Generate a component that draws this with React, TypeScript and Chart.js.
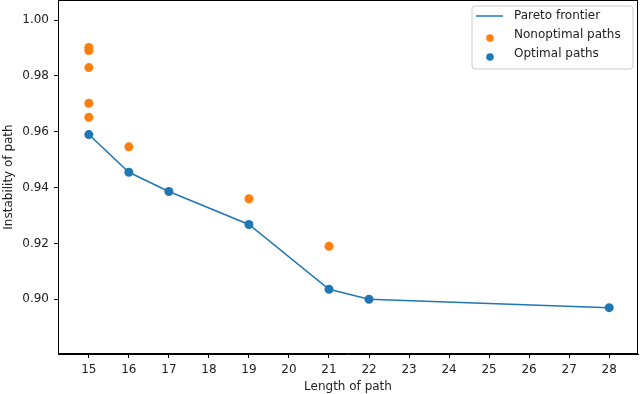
import React, { useEffect, useRef } from "react";
import { Chart, registerables } from "chart.js";

Chart.register(...registerables);

const xTicks = [15, 16, 17, 18, 19, 20, 21, 22, 23, 24, 25, 26, 27, 28];
const yTicks = [0.9, 0.92, 0.94, 0.96, 0.98, 1.0];

const optimalX = [15, 16, 17, 19, 21, 22, 28];
const optimalY = [0.959, 0.9455, 0.9386, 0.9268, 0.9036, 0.9, 0.897];

const nonoptX = [15, 15, 15, 15, 15, 16, 19, 21];
const nonoptY = [0.9902, 0.9891, 0.983, 0.9702, 0.9652, 0.9546, 0.936, 0.919];

const labels = ["Pareto frontier", "Nonoptimal paths", "Optimal paths"];
const BLUE = "#1f77b4";
const ORANGE = "#ff7f0e";
const FONT = "'DejaVu Sans', sans-serif";

const framePlugin = {
  id: "frame",
  afterDraw(chart: any) {
    const { ctx, chartArea } = chart;
    const { left, right, top, bottom } = chartArea;
    ctx.save();
    ctx.strokeStyle = "#000";
    ctx.lineWidth = 1;
    ctx.strokeRect(left + 0.5, top + 0.5, right - left - 1, bottom - top - 1);

    // legend
    const bx = 472, by = 6, bw = 161, bh = 63, r = 3;
    ctx.fillStyle = "rgba(255,255,255,0.8)";
    ctx.strokeStyle = "#cccccc";
    ctx.beginPath();
    ctx.moveTo(bx + r, by);
    ctx.lineTo(bx + bw - r, by);
    ctx.arcTo(bx + bw, by, bx + bw, by + r, r);
    ctx.lineTo(bx + bw, by + bh - r);
    ctx.arcTo(bx + bw, by + bh, bx + bw - r, by + bh, r);
    ctx.lineTo(bx + r, by + bh);
    ctx.arcTo(bx, by + bh, bx, by + bh - r, r);
    ctx.lineTo(bx, by + r);
    ctx.arcTo(bx, by, bx + r, by, r);
    ctx.closePath();
    ctx.fill();
    ctx.stroke();

    ctx.strokeStyle = BLUE;
    ctx.lineWidth = 1.5;
    ctx.beginPath();
    ctx.moveTo(476, 16);
    ctx.lineTo(503, 16);
    ctx.stroke();

    ctx.fillStyle = ORANGE;
    ctx.beginPath();
    ctx.arc(490, 38, 3.8, 0, Math.PI * 2);
    ctx.fill();
    ctx.fillStyle = BLUE;
    ctx.beginPath();
    ctx.arc(490, 57, 3.8, 0, Math.PI * 2);
    ctx.fill();

    ctx.fillStyle = "#222";
    ctx.font = `12px ${FONT}`;
    ctx.textBaseline = "middle";
    ctx.textAlign = "left";
    ctx.fillText(labels[0], 514, 16);
    ctx.fillText(labels[1], 514, 35);
    ctx.fillText(labels[2], 514, 54);
    ctx.restore();
  },
};

export default function App() {
  const ref = useRef<HTMLCanvasElement>(null);
  useEffect(() => {
    document.body.style.margin = "0";
    const chart = new Chart(ref.current!, {
      type: "scatter",
      data: {
        datasets: [
          {
            type: "line",
            label: labels[0],
            data: optimalX.map((x, i) => ({ x, y: optimalY[i] })),
            borderColor: BLUE,
            borderWidth: 1.5,
            pointRadius: 0,
            fill: false,
            order: 3,
          } as any,
          {
            label: labels[1],
            data: nonoptX.map((x, i) => ({ x, y: nonoptY[i] })),
            backgroundColor: ORANGE,
            borderColor: ORANGE,
            pointRadius: 4.5,
            borderWidth: 0,
            order: 2,
          },
          {
            label: labels[2],
            data: optimalX.map((x, i) => ({ x, y: optimalY[i] })),
            backgroundColor: BLUE,
            borderColor: BLUE,
            pointRadius: 4.5,
            borderWidth: 0,
            order: 1,
          },
        ],
      },
      options: {
        animation: false,
        responsive: false,
        layout: { autoPadding: false, padding: { top: 0, right: 2, left: 0, bottom: 0 } },
        plugins: { legend: { display: false }, tooltip: { enabled: false } },
        scales: {
          x: {
            type: "linear",
            min: 14.23,
            max: 28.72,
            afterBuildTicks: (s: any) => {
              s.ticks = xTicks.map((v) => ({ value: v }));
            },
            afterFit: (s: any) => {
              s.height = 40;
              s.paddingLeft = 0;
              s.paddingRight = 0;
            },
            grid: { drawOnChartArea: false, drawTicks: true, tickLength: 4, color: "#000" },
            border: { color: "#000" },
            ticks: { color: "#222", font: { family: FONT, size: 12 }, padding: 5, maxRotation: 0, autoSkip: false },
            title: { display: true, text: "Length of path", color: "#222", font: { family: FONT, size: 12 }, padding: { top: 2, bottom: 0 } },
          },
          y: {
            type: "linear",
            min: 0.8804,
            max: 1.0072,
            afterBuildTicks: (s: any) => {
              s.ticks = yTicks.map((v) => ({ value: v }));
            },
            afterFit: (s: any) => {
              s.width = 58;
              s.paddingTop = 0;
              s.paddingBottom = 0;
            },
            grid: { drawOnChartArea: false, drawTicks: true, tickLength: 4, color: "#000" },
            border: { color: "#000" },
            ticks: {
              color: "#222",
              font: { family: FONT, size: 12 },
              padding: 5,
              callback: (v: any) => Number(v).toFixed(2),
            },
            title: { display: true, text: "Instability of path", color: "#222", font: { family: FONT, size: 12 }, padding: { top: 2, bottom: 2 } },
          },
        },
      } as any,
      plugins: [framePlugin],
    });
    return () => chart.destroy();
  }, []);
  return (
    <div style={{ position: "relative", width: 640, height: 394 }}>
      <canvas ref={ref} width={640} height={394} style={{ width: 640, height: 394 }} />
    </div>
  );
}
